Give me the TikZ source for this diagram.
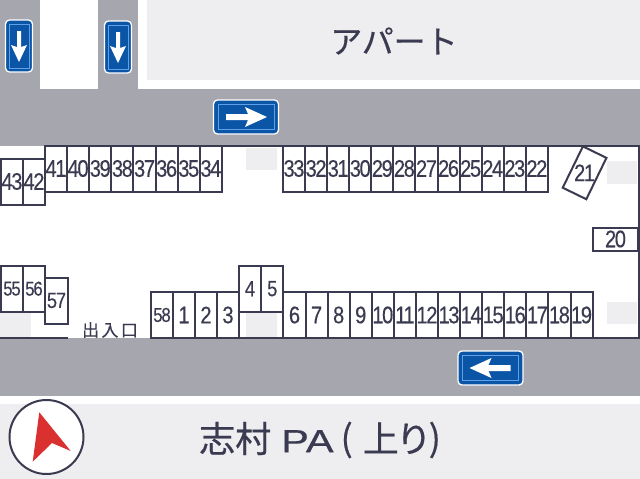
\documentclass[tikz,border=0pt]{standalone}
\usepackage{graphicx}
\usepackage{fontspec}
\setmainfont{Liberation Sans}
\newfontfamily\numfont[LetterSpace=-6,FakeStretch=0.84,FakeBold=0.25]{Liberation Sans}
\newfontfamily\cjk[FakeBold=0.5]{Noto Sans CJK JP}
\newfontfamily\cjkgate[LetterSpace=14,FakeBold=0.4]{Noto Sans CJK JP}
\newfontfamily\latinbold[FakeBold=0.5]{Liberation Sans}
\definecolor{road}{HTML}{A6A6AE}
\definecolor{pale}{HTML}{EEEEF1}
\definecolor{ink}{HTML}{3A3A50}
\definecolor{signblue}{HTML}{0B55A6}
\definecolor{signline}{HTML}{5FA0E6}
\definecolor{compassred}{HTML}{DA3030}
\newcommand{\smallnum}{\fontsize{20}{20}\selectfont}
\newcommand{\midnum}{\fontsize{22}{22}\selectfont}
\tikzset{
  spot/.style={draw=ink,line width=2pt,fill=white,inner sep=0pt,minimum width=22.08pt,minimum height=46pt,
    text=ink,font=\numfont\fontsize{24}{24}\selectfont},
  wall/.style={draw=ink,line width=2pt},
  pad/.style={fill=pale,draw=none},
  roadfill/.style={fill=road,draw=none},
  signh/.pic={
    \draw[fill=signblue,draw=white,line width=1.3pt,rounded corners=4pt] (-32.5,-17) rectangle (32.5,17);
    \draw[draw=signline,line width=1pt] (-28,-12.5) rectangle (28,12.5);
    \fill[white] (-20,-3) -- (2,-3) -- (-1,-10) -- (21,0) -- (-1,10) -- (2,3) -- (-20,3) -- cycle;
  },
  signv/.pic={
    \draw[fill=signblue,draw=white,line width=1.3pt,rounded corners=4pt] (-13.5,-26) rectangle (13.5,26);
    \draw[draw=signline,line width=1pt] (-10,-22) rectangle (10,22);
    \fill[white] (-2,-15) -- (2,-15) -- (2,1) -- (8,-1) -- (0,16) -- (-8,-1) -- (-2,1) -- cycle;
  }
}
\begin{document}
\begin{tikzpicture}[x=1pt,y=-1pt]
\useasboundingbox (0,0) rectangle (640,479);
\fill[white] (0,0) rectangle (640,479);
% roads and grounds
\fill[roadfill] (0,0) rectangle (40,90);
\fill[roadfill] (98,0) rectangle (138,90);
\fill[roadfill] (0,89) rectangle (640,146);
\fill[roadfill] (0,338) rectangle (640,396);
\fill[pale] (147,0) rectangle (640,80);
\fill[pale] (0,404) rectangle (640,479);
% pads
\fill[pad] (246,148) rectangle (277,170);
\fill[pad] (607,161) rectangle (637,184);
\fill[pad] (0,313) rectangle (31,337);
\fill[pad] (246,313) rectangle (277,337);
\fill[pad] (607,302) rectangle (637,324);
% walls
\coordinate (wt1) at (45,146);
\coordinate (wt2) at (638.5,146);
\coordinate (wb1) at (638.5,338);
\coordinate (wb2) at (151,338);
\coordinate (wc1) at (68,338);
\coordinate (wc2) at (0,338);
\draw[wall] (wt1) -- (wt2) -- (wb1) -- (wb2);
\draw[wall] (wc1) -- (wc2);
% signs
\pic at (19,46) {signv};
\pic at (118,47) {signv};
\pic at (246,117) {signh};
\pic[rotate=180] at (490.5,368) {signh};
% spots, top row
\node[spot] (s43) at (12,181.5) {43};
\node[spot] (s42) at (34,181.5) {42};
\foreach \n [count=\i from 0] in {41,40,39,38,37,36,35,34}
  \node[spot] (s\n) at ({56+\i*22.13},168.5) {\n};
\foreach \n [count=\i from 0] in {33,32,31,30,29,28,27,26,25,24,23,22}
  \node[spot] (s\n) at ({294+\i*22.08},168.5) {\n};
\node[spot,rotate=-26] (s21) at (584.6,172.8) {\rotatebox{26}{21}};
\node[spot,minimum width=45.5pt,minimum height=23pt] (s20) at (615.5,239) {20};
% spots, bottom row
\node[spot] (s55) at (12,288.7) {\smallnum 55};
\node[spot] (s56) at (34,288.7) {\smallnum 56};
\node[spot,minimum width=23pt] (s57) at (56.5,300.5) {\midnum 57};
\node[spot] (s58) at (162,315) {\smallnum 58};
\foreach \n [count=\i from 0] in {1,2,3}
  \node[spot] (s\n) at ({184+\i*22},315) {\n};
\node[spot] (s4) at (250,288.7) {\midnum 4};
\node[spot] (s5) at (272.3,288.7) {\midnum 5};
\foreach \n [count=\i from 0] in {6,7,8,9,10,11,12,13,14,15,16,17,18,19}
  \node[spot] (s\n) at ({294.5+\i*22.08},315) {\n};
% labels
\node[text=ink,inner sep=0pt,font=\cjkgate\fontsize{17}{17}\selectfont] (gate) at (110,330) {出入口};
\node[text=ink,inner sep=0pt,font=\cjk\fontsize{32}{32}\selectfont] (apart) at (394,41) {アパート};
\node[text=ink,inner sep=0pt,font=\cjk\fontsize{36}{36}\selectfont,anchor=west] (title) at (199,440)
  {志村\kern10pt{\latinbold\fontsize{32}{32}\selectfont\scalebox{1.3}[1]{PA}}\kern7pt\raisebox{1pt}{(}\kern10pt上\kern-3ptり\kern-3pt\raisebox{1pt}{)}};
% compass
\node[circle,draw=ink,line width=2pt,fill=white,minimum size=74pt,inner sep=0pt] (compass) at (46.5,437) {};
\fill[compassred] (39.3,412.3) -- (70.7,451) -- (52,443) -- (32.7,461.7) -- cycle;
\end{tikzpicture}
\end{document}
